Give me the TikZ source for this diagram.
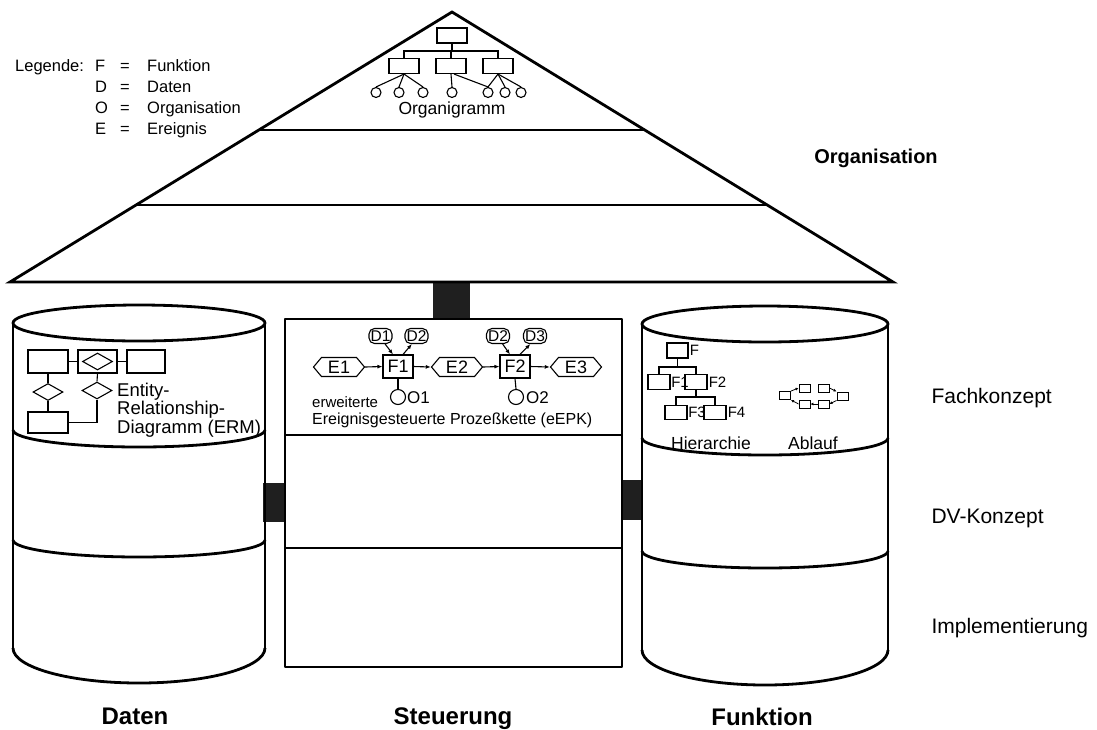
\documentclass[tikz,border=0pt]{standalone}
\usepackage{fontspec}
\setmainfont{Liberation Sans}
\usetikzlibrary{shapes.symbols,shapes.geometric,arrows.meta,calc}

% front (lower) half of a cylinder ellipse: centre x, x radius, centre y, y radius
\newcommand{\cylarc}[4]{(#1-#2,#3) .. controls (#1-#2,#3+0.552*#4) and (#1-0.552*#2,#3+#4) .. (#1,#3+#4) .. controls (#1+0.552*#2,#3+#4) and (#1+#2,#3+0.552*#4) .. (#1+#2,#3)}

\begin{document}
\begin{tikzpicture}[x=1pt,y=-1pt,
  heavy/.style={line width=2.8pt, line join=round},
  fine/.style={line width=1.1pt},
  bar/.style={fill=black!88, draw=none},
  lbl/.style={font=\fontsize{21}{24}\selectfont, anchor=west},
  bigbold/.style={font=\fontsize{24}{28}\selectfont\bfseries, anchor=base},
  legtext/.style={font=\fontsize{16.5}{18}\selectfont, anchor=base west, inner sep=0pt},
  orgbox/.style={draw, fine, minimum width=30pt, minimum height=15pt, inner sep=0pt},
  person/.style={draw, fine, circle, minimum size=10pt, inner sep=0pt},
  ent/.style={draw, fine, minimum height=23pt, inner sep=0pt},
  rel/.style={draw, fine, diamond, minimum width=30pt, minimum height=17pt, inner sep=0pt},
  event/.style={draw, fine, signal, signal to=west and east, signal pointer angle=100,
    minimum width=51pt, minimum height=19pt, inner sep=0.5pt, font=\fontsize{18}{20}\selectfont},
  func/.style={draw, fine, minimum width=30pt, minimum height=23pt, inner sep=0pt, font=\fontsize{18}{20}\selectfont},
  data/.style={draw, fine, rounded corners=5.5pt, minimum width=23pt, minimum height=15pt, inner xsep=1pt, inner ysep=0pt, font=\fontsize{15.5}{17}\selectfont},
  orgunit/.style={draw, fine, circle, minimum size=15pt, inner sep=0pt},
  small/.style={font=\fontsize{16}{18}\selectfont, inner sep=0pt},
  flabel/.style={font=\fontsize{15}{17}\selectfont, inner sep=0pt, anchor=west},
  mid/.style={font=\fontsize{17.5}{19}\selectfont, inner sep=0pt},
  fbox/.style={draw, fine, minimum width=22pt, minimum height=14.5pt, inner sep=0pt},
  tiny/.style={draw, line width=0.9pt, minimum width=11pt, minimum height=8pt, inner sep=0pt},
  flow/.style={fine, -{Latex[length=5pt,width=4pt]}},
  miniflow/.style={line width=0.8pt, -{Latex[length=3pt,width=3pt]}}
]
\useasboundingbox (0,0) rectangle (1097,729);

% ---------- connecting bars ----------
\node[bar, minimum width=37pt, minimum height=37pt, inner sep=0pt] (topbar) at (451.5,300) {};
\node[bar, minimum width=22pt, minimum height=39pt, inner sep=0pt] (leftbar) at (274,502.5) {};
\node[bar, minimum width=20pt, minimum height=40pt, inner sep=0pt] (rightbar) at (632,500) {};

% ---------- organisation roof ----------
\coordinate (apex) at (452,12);
\coordinate (bl) at (10,282);
\coordinate (br) at (893,282);
\draw[heavy, line join=miter] (bl) -- (apex) -- (br) -- cycle;
\draw[heavy] ($(apex)!0.437!(bl)$) -- ($(apex)!0.437!(br)$);
\draw[heavy] ($(apex)!0.715!(bl)$) -- ($(apex)!0.715!(br)$);

% organigram
\node[orgbox] (boss) at (452,35.5) {};
\node[orgbox] (ou1) at (404,66) {};
\node[orgbox] (ou2) at (451,66) {};
\node[orgbox] (ou3) at (498,66) {};
\coordinate (bus) at (452,51);
\draw[fine] (boss.south) -- (bus);
\draw[fine] (ou1.north) |- (bus) -| (ou3.north);
\draw[fine] (ou2.north) -- (ou2.north|-bus);
\foreach \n/\x in {p1/376,p2/399,p3/423,p4/452,p5/488,p6/505,p7/521}
  \node[person] (\n) at (\x,92.5) {};
\foreach \n in {p1,p2,p3} \draw[fine] (ou1.south) -- (\n.north);
\draw[fine] (ou2.south) -- (p4.north);
\draw[fine] ($(ou2.south)+(3,0)$) -- (p5.north);
\foreach \n in {p5,p6,p7} \draw[fine] (ou3.south) -- (\n.north);
\node[mid] (orgname) at (452,110) {Organigramm};

\node[font=\fontsize{20}{24}\selectfont\bfseries] (orglabel) at (876,158) {Organisation};

% legend
\node[legtext] (leg0) at (15,71) {Legende:};
\node[legtext] (lk1) at (95,71) {F};
\node[legtext] (lk2) at (95,92) {D};
\node[legtext] (lk3) at (95,113) {O};
\node[legtext] (lk4) at (95,134) {E};
\foreach \y in {71,92,113,134} \node[legtext] at (120,\y) {=};
\node[legtext] (lv1) at (147,71) {Funktion};
\node[legtext] (lv2) at (147,92) {Daten};
\node[legtext] (lv3) at (147,113) {Organisation};
\node[legtext] (lv4) at (147,134) {Ereignis};

% ---------- data cylinder ----------
\draw[heavy] (139,323) ellipse [x radius=126, y radius=18];
\draw[heavy] (13,323) -- (13,648) (265,323) -- (265,648);
\draw[heavy] \cylarc{139}{126}{430}{17};
\draw[heavy] \cylarc{139}{126}{540}{17};
\draw[heavy] \cylarc{139}{126}{648}{35};

% entity-relationship model
\node[ent, minimum width=40pt] (ent1) at (48,361.5) {};
\node[ent, minimum width=39pt] (relbox) at (97.5,361.5) {};
\node[rel] (reldia) at (relbox) {};
\node[ent, minimum width=38pt] (ent2) at (146,361.5) {};
\node[ent, minimum width=40pt, minimum height=21pt] (ent3) at (48,422.5) {};
\node[rel] (rel1) at (48,392) {};
\node[rel] (rel2) at (97,390.5) {};
\draw[fine] (ent1.east) -- (relbox.west);
\draw[fine] (relbox.east) -- (ent2.west);
\draw[fine] (ent1.south) -- (rel1.north);
\draw[fine] (rel1.south) -- (ent3.north);
\draw[fine] (relbox.south) -- (rel2.north);
\draw[fine] (rel2.south) |- (ent3.east);
\node[anchor=base west, inner sep=0pt, align=left, font=\fontsize{18.5}{15.5}\selectfont] (ermtext) at (117,433) {Entity-\\Relationship-\\Diagramm (ERM)};

% ---------- control box ----------
\draw[heavy] (285,319) rectangle (622,667);
\draw[heavy] (285,435) -- (622,435);
\draw[heavy] (285,548) -- (622,548);

% event-driven process chain
\node[event] (e1) at (339,367) {E1};
\node[func] (f1) at (398,366.5) {F1};
\node[event] (e2) at (457,367) {E2};
\node[func] (f2) at (515,366.5) {F2};
\node[event] (e3) at (576,367) {E3};
\node[data] (d1) at (380.5,336) {D1};
\node[data] (d2a) at (416.5,336) {D2};
\node[data] (d2b) at (498,336) {D2};
\node[data] (d3) at (535,336) {D3};
\node[orgunit] (o1) at (398,397) {};
\node[orgunit] (o2) at (516,397) {};
\node[small, anchor=west, font=\fontsize{17}{19}\selectfont] (o1t) at (407,397.5) {O1};
\node[small, anchor=west, font=\fontsize{17}{19}\selectfont] (o2t) at (526,397.5) {O2};
\draw[flow] (e1.east) -- (f1.west);
\draw[flow] (f1.east) -- (e2.west);
\draw[flow] (e2.east) -- (f2.west);
\draw[flow] (f2.east) -- (e3.west);
\draw[flow] (d1.300) -- ($(f1.north)+(-5,0)$);
\draw[flow] ($(f1.north)+(5,0)$) -- (d2a.240);
\draw[flow] (d2b.300) -- ($(f2.north)+(-5,0)$);
\draw[flow] ($(f2.north)+(5,0)$) -- (d3.240);
\draw[fine] (f1.south) -- (o1.north);
\draw[fine] (f2.south) -- (o2.north);
\node[small, anchor=west, font=\fontsize{15}{17}\selectfont] (epk1) at (312,402) {erweiterte};
\node[font=\fontsize{16}{18}\selectfont, anchor=west, inner sep=0pt] (epk2) at (312,420) {Ereignisgesteuerte Prozeßkette (eEPK)};

% ---------- function cylinder ----------
\draw[heavy] (765,324) ellipse [x radius=123, y radius=18];
\draw[heavy] (642,324) -- (642,650) (888,324) -- (888,650);
\draw[heavy] \cylarc{765}{123}{438}{17};
\draw[heavy] \cylarc{765}{123}{551}{17};
\draw[heavy] \cylarc{765}{123}{650}{35};

% function hierarchy
\node[fbox, minimum width=21pt, minimum height=15pt] (fa) at (677.5,350.5) {};
\node[fbox] (fb) at (659,382) {};
\node[fbox] (fc) at (696,382) {};
\node[fbox] (fd) at (676,412.5) {};
\node[fbox] (fe) at (715,412.5) {};
\coordinate (h1) at (677.5,367);
\coordinate (h2) at (696,397);
\draw[fine] (fa.south) -- (h1);
\draw[fine] (fb.north) |- (h1) -| (fc.north);
\draw[fine] (fc.south) -- (h2);
\draw[fine] (fd.north) |- (h2) -| (fe.north);
\node[flabel] (fat) at ($(fa.east)+(1,0)$) {F};
\node[flabel] (fbt) at ($(fb.east)+(0.5,0)$) {F1};
\node[flabel] (fct) at ($(fc.east)+(1,0)$) {F2};
\node[flabel] (fdt) at ($(fd.east)+(0.5,0)$) {F3};
\node[flabel] (fet) at ($(fe.east)+(1,0)$) {F4};
\node[mid] (hier) at (711,443) {Hierarchie};

% function flow
\node[tiny] (a0) at (785,395.5) {};
\node[tiny] (a1) at (804.5,388) {};
\node[tiny] (a2) at (804.5,404) {};
\node[tiny] (a3) at (823.5,388) {};
\node[tiny] (a4) at (823.5,404) {};
\node[tiny] (a5) at (842.5,396) {};
\draw[miniflow] (a0.north east) -- (a1.west);
\draw[miniflow] (a3.east) -- (a5.north west);
\draw[miniflow] (a5.south west) -- (a4.east);
\draw[miniflow] (a4.west) -- (a2.east);
\draw[miniflow] (a2.west) -- (a0.south east);
\node[mid] (abl) at (813,443) {Ablauf};

% ---------- level labels ----------
\node[lbl] (lvl1) at (928,398) {Fachkonzept};
\node[lbl] (lvl2) at (928,518) {DV-Konzept};
\node[lbl] (lvl3) at (928,628) {Implementierung};

% ---------- view labels ----------
\node[bigbold] (vdat) at (135,724) {Daten};
\node[bigbold] (vstr) at (453,724) {Steuerung};
\node[bigbold] (vfkt) at (762,725) {Funktion};
\end{tikzpicture}
\end{document}
